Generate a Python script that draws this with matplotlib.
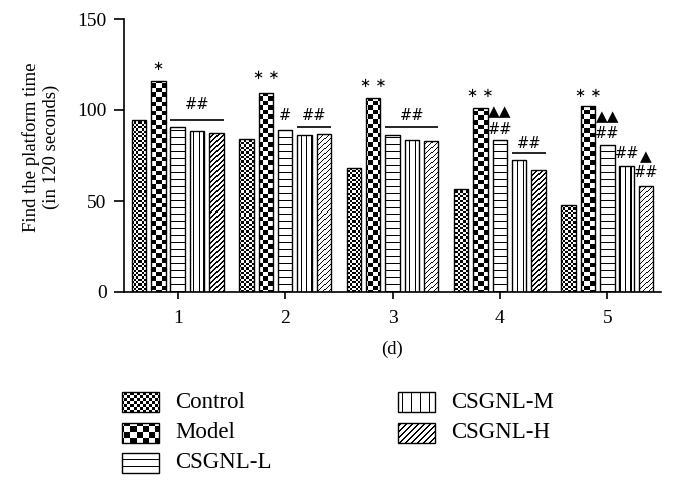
import numpy as np
import matplotlib
matplotlib.use("Agg")
import matplotlib.pyplot as plt
from matplotlib.patches import Rectangle

plt.rcParams['font.family'] = ['Liberation Serif', 'DejaVu Sans']

# ---------------- data ----------------
days = ['1', '2', '3', '4', '5']
groups = ['Control', 'Model', 'CSGNL-L', 'CSGNL-M', 'CSGNL-H']
control = [94.6, 84.1, 68.3, 56.8, 47.8]
model = [115.7, 109.6, 106.6, 100.9, 102.2]
csgnl_l = [90.6, 88.9, 86.0, 83.4, 80.5]
csgnl_m = [88.4, 86.5, 83.4, 72.5, 69.4]
csgnl_h = [87.4, 86.9, 82.7, 67.3, 58.5]
series = [control, model, csgnl_l, csgnl_m, csgnl_h]
patterns = ['fine', 'checker', 'hlines', 'vlines', 'diag']

# single-bar annotations: (day index, bar index, text, offset above bar top)
marks = [
    (0, 1, '∗', 8.1),
    (1, 1, '∗ ∗', 9.4), (1, 2, '#', 8.3),
    (2, 1, '∗ ∗', 7.8),
    (3, 1, '∗ ∗', 8.3), (3, 2, '▲▲', 15.7), (3, 2, '##', 6.1),
    (4, 1, '∗ ∗', 7.0), (4, 2, '▲▲', 16.0), (4, 2, '##', 6.8),
    (4, 3, '##', 6.8), (4, 4, '▲', 16.1), (4, 4, '##', 7.4),
]
# bracket annotations: (day index, first bar, last bar, text, line offset, text offset)
brackets = [
    (0, 2, 4, '##', 3.9, 12.2),
    (1, 3, 4, '##', 3.7, 10.3),
    (2, 2, 4, '##', 4.8, 11.2),
    (3, 3, 4, '##', 3.7, 9.1),
]

# ---------------- figure ----------------
W, H = 676, 488
fig = plt.figure(figsize=(W / 100, H / 100), dpi=100)
ax = fig.add_axes([124 / W, 1 - 292 / H, (661 - 124) / W, (292 - 19) / H])
ax.set_xlim(-0.5, 4.5)
ax.set_ylim(0, 150)

pitch = 0.18
width = 0.135


def pattern_mask(kind, X, Y, s=1.0):
    if kind == 'fine':
        c = 2.3 * s
        return ((np.floor(X / c) + np.floor(Y / c)) % 2) == 0
    if kind == 'checker':
        c = 4.6 * s
        return ((np.floor(X / c) + np.floor(Y / c)) % 2) == 0
    if kind == 'hlines':
        return (Y % (7.0 * s)) < 1.3
    if kind == 'vlines':
        return (X % (4.7 * s)) < 1.1
    if kind == 'diag':
        return ((X - Y) % (5.0 * s)) < 1.5
    return np.zeros_like(X, dtype=bool)


def fill_pattern(target_ax, rect, kind, flip=False, s=1.0):
    target_ax.add_patch(rect)
    ext = (rect.get_x(), rect.get_x() + rect.get_width(),
           rect.get_y(), rect.get_y() + rect.get_height())
    (x0, ya), (x1, yb) = target_ax.transData.transform([(ext[0], ext[2]), (ext[1], ext[3])])
    y0, y1 = min(ya, yb), max(ya, yb)
    w = max(int(round(x1 - x0)), 1)
    h = max(int(round(y1 - y0)), 1)
    X, Y = np.meshgrid(x0 + np.arange(w) + 0.5, y0 + np.arange(h) + 0.5)
    img = np.ones((h, w, 3))
    img[pattern_mask(kind, X, Y, s)] = 0.0
    if flip:
        img = img[::-1]
    im = target_ax.imshow(img, origin='lower', interpolation='nearest',
                          extent=ext, aspect='auto', zorder=2)
    im.set_clip_path(rect)
    target_ax.add_patch(Rectangle((rect.get_x(), rect.get_y()), rect.get_width(),
                                  rect.get_height(), facecolor='none',
                                  edgecolor='black', lw=1.0, zorder=3))


x = np.arange(len(days))
bars_x = {}
for j, (vals, kind) in enumerate(zip(series, patterns)):
    offs = (j - 2) * pitch
    bc = ax.bar(x + offs, vals, width=width, facecolor='white', edgecolor='none', zorder=1)
    for i, b in enumerate(bc):
        bars_x[(i, j)] = b.get_x() + b.get_width() / 2
        r = Rectangle((b.get_x(), 0), b.get_width(), b.get_height(),
                      facecolor='white', edgecolor='none', zorder=1)
        fill_pattern(ax, r, kind)

ax.set_xlim(-0.5, 4.5)
ax.set_ylim(0, 150)

for (i, j, txt, off) in marks:
    y = series[j][i] + off
    if '∗' in txt:
        ax.text(bars_x[(i, j)], y, txt, ha='center', va='center', fontsize=9.5,
                family='DejaVu Sans', zorder=5)
    elif '▲' in txt:
        ax.text(bars_x[(i, j)], y, txt, ha='center', va='center', fontsize=11,
                family='DejaVu Sans', zorder=5)
    else:
        ax.text(bars_x[(i, j)], y, txt, ha='center', va='center', fontsize=10.5,
                family='DejaVu Sans', zorder=5)

for (i, j0, j1, txt, loff, toff) in brackets:
    top = max(series[k][i] for k in range(j0, j1 + 1))
    xl = bars_x[(i, j0)] - width / 2
    xr = bars_x[(i, j1)] + width / 2
    ax.plot([xl, xr], [top + loff, top + loff], color='black', lw=1.2, zorder=5,
            solid_capstyle='butt')
    ax.text((xl + xr) / 2, top + toff, txt, ha='center', va='center', fontsize=10.5,
            family='DejaVu Sans', zorder=5)

for s in ['top', 'right']:
    ax.spines[s].set_visible(False)
for s in ['left', 'bottom']:
    ax.spines[s].set_linewidth(1.2)

ax.set_xticks(x)
ax.set_xticklabels(days)
ax.set_yticks([0, 50, 100, 150])
ax.tick_params(axis='both', direction='out', width=1.2, labelsize=14)
ax.tick_params(axis='y', length=7.5, pad=5)
ax.tick_params(axis='x', length=5, pad=8)
ax.set_ylabel('Find the platform time\n(in 120 seconds)', fontsize=13.5, linespacing=1.15)
ax.yaxis.set_label_coords(-0.12, 0.53)
ax.set_xlabel('(d)', fontsize=13.5, labelpad=10)

# ---------------- legend ----------------
lax = fig.add_axes([0, 0, 1, 1], zorder=-1)
lax.set_xlim(0, W)
lax.set_ylim(H, 0)
lax.axis('off')
leg_pos = [(122, 392), (122, 423), (122, 453), (398, 392), (398, 423)]
leg_scale = {'fine': 1.35, 'checker': 1.35, 'hlines': 1.0, 'vlines': 1.9, 'diag': 1.2}
for (lx, ly), name, kind in zip(leg_pos, groups, patterns):
    r = Rectangle((lx, ly), 37, 20, facecolor='white', edgecolor='none', zorder=1)
    fill_pattern(lax, r, kind, flip=True, s=leg_scale[kind])
    lax.text(lx + 53, ly + 10, name, ha='left', va='center', fontsize=16.5)
lax.set_xlim(0, W)
lax.set_ylim(H, 0)

fig.savefig('out.png', dpi=100)
